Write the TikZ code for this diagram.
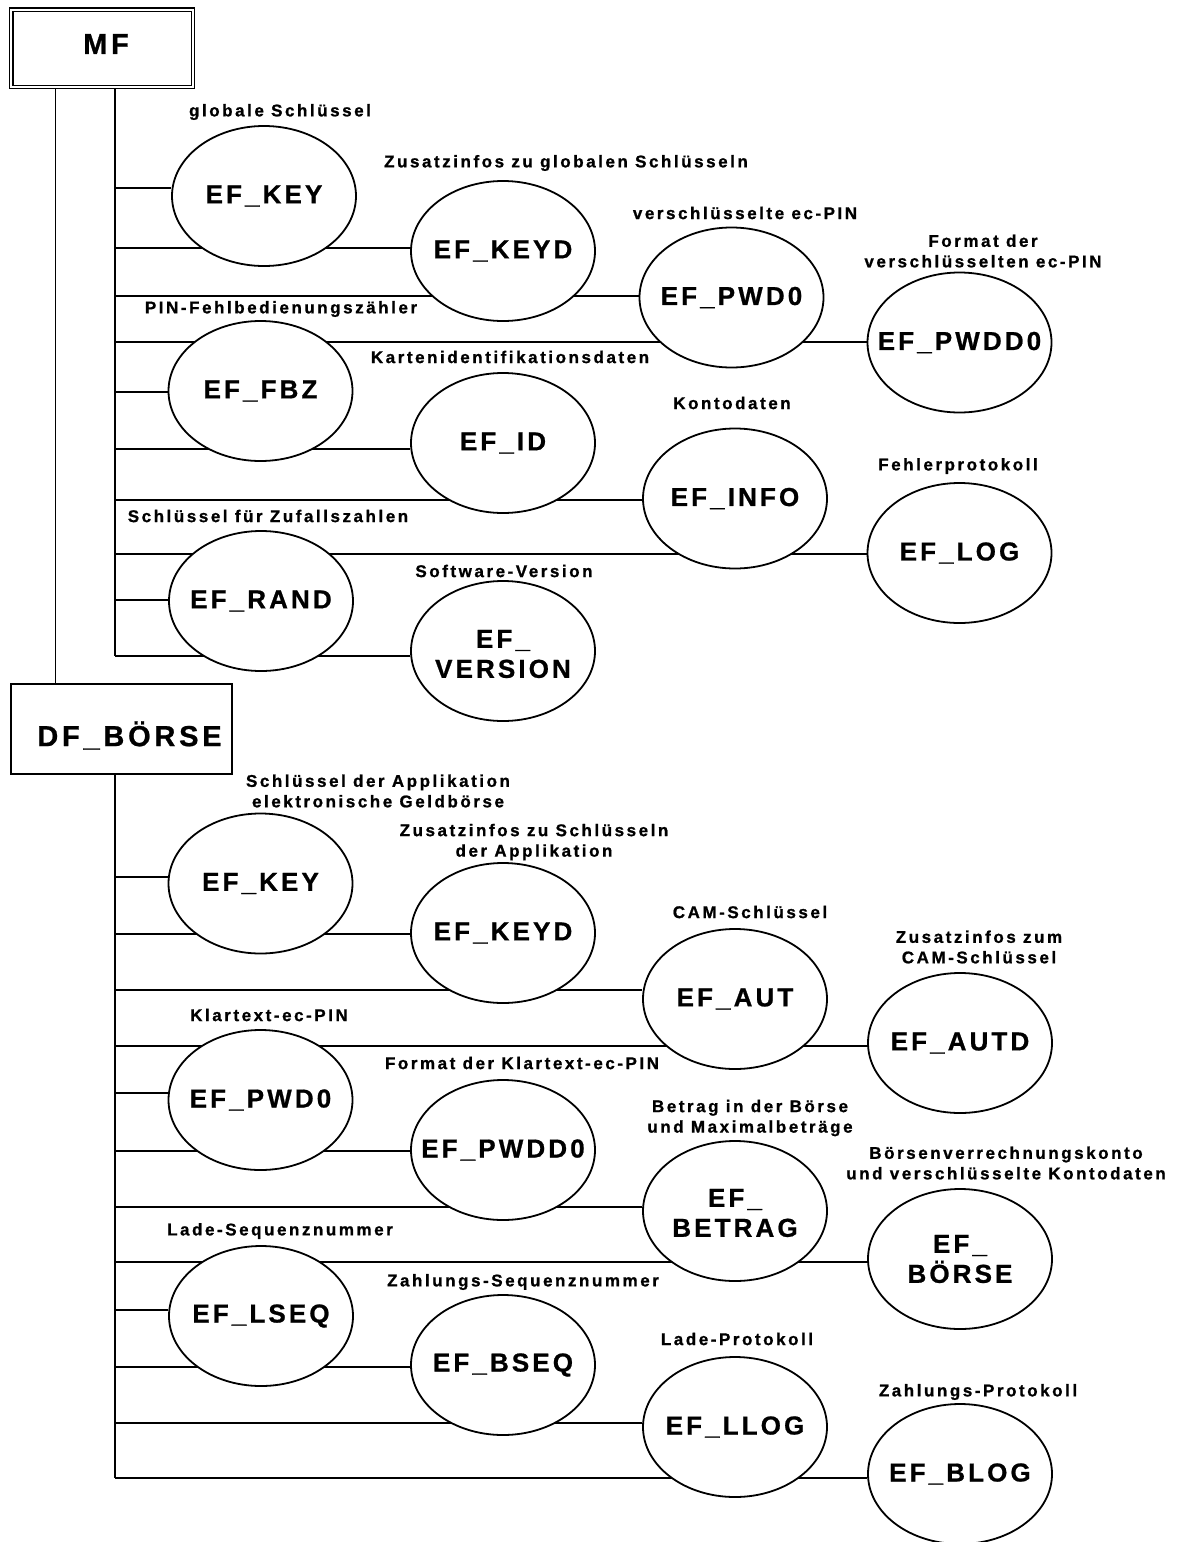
\documentclass[tikz,border=0pt]{standalone}
\usepackage{fontspec}
\setmainfont{Liberation Sans}
\newfontfamily\lblfont{Liberation Sans}[LetterSpace=15, FakeBold=1]
\newfontfamily\effont{Liberation Sans}[LetterSpace=12, FakeBold=0.8]
\newfontfamily\bxfont{Liberation Sans}[LetterSpace=13, FakeBold=0.8]
\usetikzlibrary{shapes.geometric}
\pgfdeclarelayer{bg}
\pgfsetlayers{bg,main}
\tikzset{
  efell/.style={ellipse, draw, line width=1.8pt, fill=white, minimum width=184pt, minimum height=140pt, inner sep=0pt},
  eftext/.style={font=\effont\bfseries\fontsize{26}{30}\selectfont, align=center, inner sep=0pt},
  lbl/.style={font=\lblfont\bfseries\fontsize{17}{20.5}\selectfont, align=center, inner sep=0pt},
  conn/.style={line width=1.6pt},
  mfbox/.style={draw, double, double distance=2pt, line width=1.3pt, minimum width=181.6pt, minimum height=77.3pt, inner sep=0pt},
  dfbox/.style={draw, line width=1.7pt, minimum width=221.5pt, minimum height=90.5pt, inner sep=0pt},
  bxtext/.style={font=\bxfont\bfseries\fontsize{29}{33}\selectfont, inner sep=0pt},
}
\begin{document}
\begin{tikzpicture}[x=1pt,y=-1pt]
\useasboundingbox (0,0) rectangle (1179,1542);
% boxes
\node[mfbox] (mf) at (102,48.2) {};
\node[bxtext] (mft) at (106,44) {MF};
\node[dfbox] (df) at (121.5,729) {};
\node[bxtext] (dft) at (129.5,735.5) {DF\_BÖRSE};
% upper ellipses
\node[efell] (key1) at (264,196) {};
\node[efell] (keyd1) at (503,251) {};
\node[efell] (pwd01) at (731.5,297.5) {};
\node[efell] (pwdd01) at (959.5,342.5) {};
\node[efell] (fbz) at (260.5,391) {};
\node[efell] (id) at (503,443) {};
\node[efell] (info) at (735,498.5) {};
\node[efell] (log) at (959.5,553) {};
\node[efell] (rand) at (261,601) {};
\node[efell] (version) at (503,651) {};
% lower ellipses
\node[efell] (key2) at (260.5,883.5) {};
\node[efell] (keyd2) at (503,933) {};
\node[efell] (aut) at (735,999) {};
\node[efell] (autd) at (960,1043) {};
\node[efell] (pwd02) at (260.5,1100) {};
\node[efell] (pwdd02) at (503,1150) {};
\node[efell] (betrag) at (735,1211) {};
\node[efell] (boerse) at (960,1259) {};
\node[efell] (lseq) at (261,1316) {};
\node[efell] (bseq) at (503,1365) {};
\node[efell] (llog) at (735,1427) {};
\node[efell] (blog) at (960,1474) {};
% ellipse texts
\node[eftext] (key1t) at (key1) {EF\_KEY};
\node[eftext] (keyd1t) at (keyd1) {EF\_KEYD};
\node[eftext] (pwd01t) at (pwd01) {EF\_PWD0};
\node[eftext] (pwdd01t) at (pwdd01) {EF\_PWDD0};
\node[eftext] (fbzt) at (fbz) {EF\_FBZ};
\node[eftext] (idt) at (id) {EF\_ID};
\node[eftext] (infot) at (info) {EF\_INFO};
\node[eftext] (logt) at (log) {EF\_LOG};
\node[eftext] (randt) at (rand) {EF\_RAND};
\node[eftext] (versiont) at ([yshift=-3pt]version) {EF\_\\VERSION};
\node[eftext] (key2t) at (key2) {EF\_KEY};
\node[eftext] (keyd2t) at (keyd2) {EF\_KEYD};
\node[eftext] (autt) at (aut) {EF\_AUT};
\node[eftext] (autdt) at (autd) {EF\_AUTD};
\node[eftext] (pwd02t) at (pwd02) {EF\_PWD0};
\node[eftext] (pwdd02t) at (pwdd02) {EF\_PWDD0};
\node[eftext] (betragt) at ([yshift=-2pt]betrag) {EF\_\\BETRAG};
\node[eftext] (boerset) at (boerse) {EF\_\\BÖRSE};
\node[eftext] (lseqt) at (lseq) {EF\_LSEQ};
\node[eftext] (bseqt) at (bseq) {EF\_BSEQ};
\node[eftext] (llogt) at (llog) {EF\_LLOG};
\node[eftext] (blogt) at (blog) {EF\_BLOG};
% labels
\node[lbl] (l1) at (280,112) {globale Schlüssel};
\node[lbl] (l2) at (566,163) {Zusatzinfos zu globalen Schlüsseln};
\node[lbl] (l3) at (745,213) {verschlüsselte ec-PIN};
\node[lbl] (l4) at (983,251) {Format der\\verschlüsselten ec-PIN};
\node[lbl] (l5) at (281,309) {PIN-Fehlbedienungszähler};
\node[lbl] (l6) at (510,357) {Kartenidentifikationsdaten};
\node[lbl] (l7) at (732,403) {Kontodaten};
\node[lbl] (l8) at (958,466) {Fehlerprotokoll};
\node[lbl] (l9) at (268,516) {Schlüssel für Zufallszahlen};
\node[lbl] (l10) at (504,571) {Software-Version};
\node[lbl] (l11) at (378,791) {Schlüssel der Applikation\\elektronische Geldbörse};
\node[lbl] (l12) at (534,842) {Zusatzinfos zu Schlüsseln\\der Applikation};
\node[lbl] (l13) at (750,912) {CAM-Schlüssel};
\node[lbl] (l14) at (979,947) {Zusatzinfos zum\\CAM-Schlüssel};
\node[lbl] (l15) at (269,1015) {Klartext-ec-PIN};
\node[lbl] (l16) at (522,1063) {Format der Klartext-ec-PIN};
\node[lbl] (l17) at (750,1118) {Betrag in der Börse\\und Maximalbeträge};
\node[lbl] (l18) at (1006,1163) {Börsenverrechnungskonto\\und verschlüsselte Kontodaten};
\node[lbl] (l19) at (280,1231) {Lade-Sequenznummer};
\node[lbl] (l20) at (523,1282) {Zahlungs-Sequenznummer};
\node[lbl] (l21) at (737,1339) {Lade-Protokoll};
\node[lbl] (l22) at (978,1392) {Zahlungs-Protokoll};
% connectors
\coordinate (ux) at (115,0);
\coordinate (lx) at (55.5,0);
\coordinate (uend) at (115,656);
\coordinate (lend) at (115,1478);
\begin{pgfonlayer}{bg}
\draw[conn] (mf.south -| lx) -- (df.north -| lx);
\draw[conn] (mf.south -| ux) -- (uend);
\draw[conn] (df.south -| ux) -- (lend);
\foreach \yy/\tg in {188/key1, 248/keyd1, 296/pwd01, 342/pwdd01, 392/fbz, 449/id, 500/info, 554/log, 600/rand, 656/version,
  877/key2, 934/keyd2, 990/aut, 1046/autd, 1093/pwd02, 1151/pwdd02, 1207/betrag, 1262/boerse, 1310/lseq, 1367/bseq, 1423/llog, 1478/blog}{
  \coordinate (br-\tg) at (115,\yy);
  \draw[conn] (br-\tg) -- (br-\tg -| \tg.west);
}
\end{pgfonlayer}
\end{tikzpicture}
\end{document}
